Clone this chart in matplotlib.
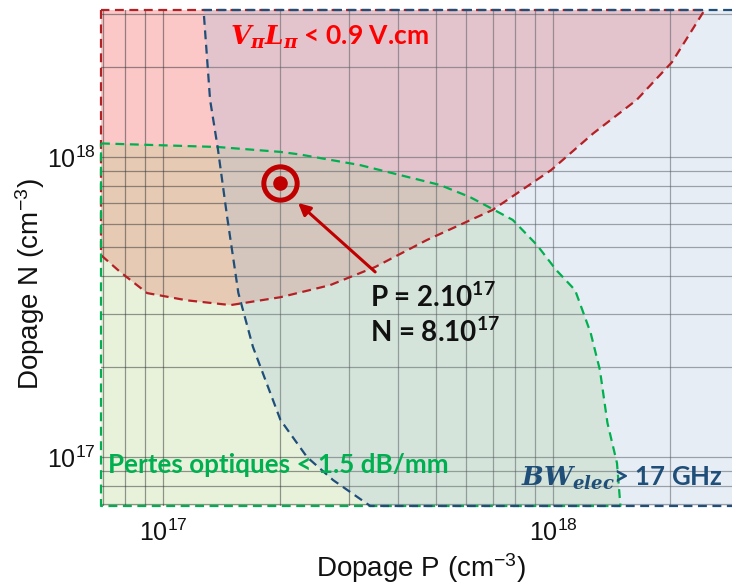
import matplotlib
matplotlib.use('Agg')
import matplotlib.pyplot as plt
from matplotlib.ticker import LogLocator, NullFormatter
import numpy as np

plt.rcParams['font.family'] = ['Liberation Sans', 'DejaVu Sans']
plt.rcParams['mathtext.fontset'] = 'custom'
plt.rcParams['mathtext.it'] = 'DejaVu Serif:italic:bold'
plt.rcParams['mathtext.rm'] = 'DejaVu Serif:bold'

# axis ranges (cm^-3)
x_min, x_max = 6.93e16, 2.88e18
y_min, y_max = 6.87e16, 3.09e18

# V_pi L_pi < 0.9 V.cm boundary (from left edge to top edge)
p_red = [x_min, 7.76e16, 9.1e16, 1.15e17, 1.49e17, 2.0e17, 2.68e17, 3.5e17,
         4.75e17, 7.0e17, 9.9e17, 1.27e18, 1.64e18, 2.02e18, 2.45e18]
n_red = [4.71e17, 4.14e17, 3.52e17, 3.33e17, 3.21e17, 3.41e17, 3.74e17, 4.3e17,
         5.29e17, 6.66e17, 9.05e17, 1.2e18, 1.55e18, 2.07e18, y_max]

# optical losses < 1.5 dB/mm boundary (from left edge to bottom edge)
p_green = [x_min, 1.38e17, 2.0e17, 2.24e17, 3.2e17, 4.05e17, 5.13e17, 6.12e17,
           7.0e17, 7.89e17, 9.1e17, 1.02e18, 1.14e18, 1.19e18, 1.25e18, 1.32e18,
           1.38e18, 1.46e18, 1.49e18]
n_green = [1.11e18, 1.08e18, 1.04e18, 1.02e18, 9.4e17, 8.71e17, 8.07e17, 7.36e17,
           6.71e17, 6.17e17, 5.09e17, 4.2e17, 3.6e17, 3.09e17, 2.59e17, 1.95e17,
           1.3e17, 9.55e16, y_min]

# BW_elec > 17 GHz boundary (from top edge to bottom edge)
p_blue = [1.27e17, 1.32e17, 1.38e17, 1.46e17, 1.56e17, 1.7e17, 2.0e17,
          2.34e17, 2.73e17, 3.4e17]
n_blue = [y_max, 1.55e18, 1.08e18, 6.31e17, 3.52e17, 2.33e17, 1.33e17,
          1.0e17, 8.38e16, y_min]

# chosen point
p_point, n_point = 2.0e17, 8.2e17
arrow_tail = (3.5e17, 4.14e17)
arrow_head = (2.22e17, 7.03e17)

red_edge = '#b52025'
green_edge = '#00b050'
blue_edge = '#1f4e79'
dash = (0, (4, 2.5))

fig = plt.figure(figsize=(7.32, 5.84), dpi=100)
ax = fig.add_axes([101 / 732, 78 / 584, 631 / 732, 496 / 584])
ax.set_xscale('log')
ax.set_yscale('log')
ax.set_xlim(x_min, x_max)
ax.set_ylim(y_min, y_max)

# filled regions
ax.fill([x_min] + p_red, [y_max] + n_red, color='#fbc7c7', lw=0, zorder=1)
ax.fill(p_green + [x_min], n_green + [y_min], color='#b6d48a', alpha=0.3, lw=0, zorder=2)
ax.fill(p_blue + [x_max, x_max], n_blue + [y_min, y_max], color='#9fbbdb',
        alpha=0.25, lw=0, zorder=3)

# dashed outlines
ax.plot([x_min] + p_red + [x_min], [y_max] + n_red + [y_max], color=red_edge,
        lw=1.6, ls=dash, clip_on=False, zorder=6)
ax.plot(p_green + [x_min, x_min], n_green + [y_min, n_green[0]], color=green_edge,
        lw=1.6, ls=dash, clip_on=False, zorder=6)
ax.plot([x_max] + p_blue + [x_max], [y_max] + n_blue + [y_min], color=blue_edge,
        lw=1.6, ls=dash, clip_on=False, zorder=7)

ax.grid(True, which='both', color='#333333', alpha=0.5, lw=0.9, zorder=4)
ax.set_axisbelow(False)
ax.xaxis.set_minor_locator(LogLocator(base=10, subs=np.arange(2, 10)))
ax.yaxis.set_minor_locator(LogLocator(base=10, subs=np.arange(2, 10)))
ax.xaxis.set_minor_formatter(NullFormatter())
ax.yaxis.set_minor_formatter(NullFormatter())
ax.tick_params(which='both', length=0, labelsize=18, colors='#111111')
ax.tick_params(axis='x', pad=10)
ax.tick_params(axis='y', pad=4)
for s in ax.spines.values():
    s.set_visible(False)

# target marker and arrow
ax.plot(p_point, n_point, 'o', ms=24, mfc='none', mec='#c00000', mew=3.6, zorder=8)
ax.plot(p_point, n_point, 'o', ms=10.5, color='#c00000', mec='none', zorder=8)
ax.annotate('', xy=arrow_head, xytext=arrow_tail,
            arrowprops=dict(arrowstyle='-|>', color='#c00000', lw=2.2,
                            mutation_scale=18, shrinkA=0, shrinkB=0), zorder=8)

txt_font = ['Lato', 'DejaVu Sans']
ax.text(0.204, 0.944, r'$V_\pi L_\pi$ < 0.9 V.cm', transform=ax.transAxes,
        color='#ff0000', fontsize=19, fontweight='bold', family=txt_font,
        va='center', ha='left', zorder=9)
ax.text(0.011, 0.083, 'Pertes optiques < 1.5 dB/mm', transform=ax.transAxes,
        color='#00b050', fontsize=18.7, fontweight='bold', family=txt_font,
        va='center', ha='left', zorder=9)
ax.text(0.665, 0.056, r'$BW_{elec}$> 17 GHz', transform=ax.transAxes,
        color='#1f4e79', fontsize=18.5, fontweight='bold', family=txt_font,
        va='center', ha='left', zorder=9)
ax.text(0.426, 0.421, r'P = 2.10$\mathregular{^{17}}$', transform=ax.transAxes,
        color='#111111', fontsize=20, fontweight='bold', family=txt_font,
        va='center', ha='left', zorder=9)
ax.text(0.426, 0.349, r'N = 8.10$\mathregular{^{17}}$', transform=ax.transAxes,
        color='#111111', fontsize=20, fontweight='bold', family=txt_font,
        va='center', ha='left', zorder=9)

ax.set_xlabel(r'Dopage P (cm$\mathregular{^{-3}}$)', fontsize=20, color='#111111')
ax.set_ylabel(r'Dopage N (cm$\mathregular{^{-3}}$)', fontsize=20, color='#111111')
ax.xaxis.set_label_coords(0.507, -0.092)
ax.yaxis.set_label_coords(-0.086, 0.447)

fig.savefig('out.png', dpi=100)
